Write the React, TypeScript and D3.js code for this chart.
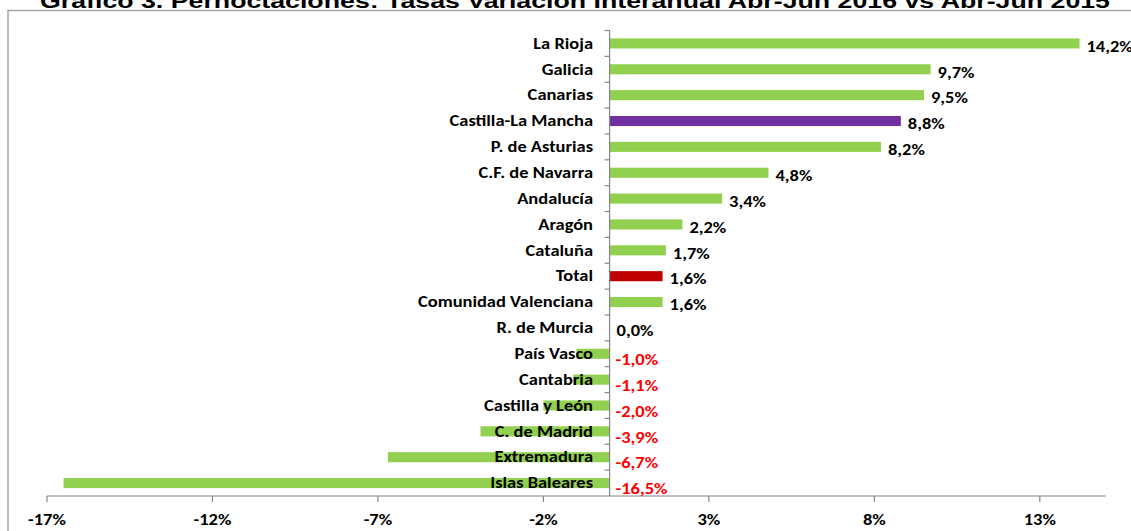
import React from 'react'
import * as d3 from "d3";

const regions = ["La Rioja", "Galicia", "Canarias", "Castilla-La Mancha", "P. de Asturias", "C.F. de Navarra", "Andalucía", "Aragón", "Cataluña", "Total", "Comunidad Valenciana", "R. de Murcia", "País Vasco", "Cantabria", "Castilla y León", "C. de Madrid", "Extremadura", "Islas Baleares"]
const variation = [14.2, 9.7, 9.5, 8.8, 8.2, 4.8, 3.4, 2.2, 1.7, 1.6, 1.6, 0.0, -1.0, -1.1, -2.0, -3.9, -6.7, -16.5]
const tickValues = [-17, -12, -7, -2, 3, 8, 13]
const highlight: Record<string, string> = { "Castilla-La Mancha": "#7030a0", "Total": "#c00000" }
const title = "Gráfico 3. Pernoctaciones: Tasas Variación Interanual Abr-Jun 2016 vs Abr-Jun 2015"

function drawChart(svgRef: React.RefObject<SVGSVGElement>) {
  const width = 1131
  const height = 531
  const font = "Carlito, Calibri, Lato, sans-serif"
  const stretch = 1.23
  const fmt = (v: number) => d3.format(".1f")(v).replace(".", ",").replace("−", "-") + "%"

  const svg = d3.select(svgRef.current)
    .attr("width", width)
    .attr("height", height)
  svg.selectAll("*").remove()

  const x = d3.scaleLinear().domain([-17, 15]).range([47, 1106])
  const y = d3.scaleBand().domain(regions).range([30.5, 496]).paddingInner(0.61).paddingOuter(0.305)
  const band = d3.scaleBand().domain(regions).range([30.5, 496])

  // frame round the chart area
  svg.append("rect")
    .attr("x", 8).attr("y", 10.5)
    .attr("width", width + 20).attr("height", height)
    .attr("fill", "none").attr("stroke", "#a6a6a6").attr("stroke-width", 1.5)

  // title, its top runs off the page as in the original
  svg.append("text")
    .attr("x", 40).attr("y", 7.5)
    .attr("textLength", 1070).attr("lengthAdjust", "spacingAndGlyphs")
    .attr("font-family", "'Liberation Sans', Arial, sans-serif")
    .attr("font-weight", "bold").attr("font-size", 20)
    .text(title)

  // bars
  svg.append("g")
    .selectAll("rect")
    .data(regions)
    .join("rect")
      .attr("x", (d, i) => x(Math.min(0, variation[i])))
      .attr("y", d => y(d)!)
      .attr("width", (d, i) => Math.abs(x(variation[i]) - x(0)))
      .attr("height", y.bandwidth())
      .attr("fill", d => highlight[d] ?? "#92d050")

  // x axis
  const xAxis = svg.append("g").attr("stroke", "#868686").attr("stroke-width", 1.2)
  xAxis.append("line").attr("x1", x(-17)).attr("x2", x(15)).attr("y1", 496).attr("y2", 496)
  xAxis.selectAll("line.tick").data(tickValues).join("line")
    .attr("class", "tick")
    .attr("x1", d => x(d)).attr("x2", d => x(d)).attr("y1", 496).attr("y2", 502)

  svg.append("g")
    .selectAll("text")
    .data(tickValues)
    .join("text")
      .attr("transform", d => `translate(${x(d)},525) scale(${stretch},1)`)
      .attr("text-anchor", "middle")
      .attr("font-family", font).attr("font-weight", "bold").attr("font-size", 15)
      .text(d => d + "%")

  // category axis
  const yAxis = svg.append("g").attr("stroke", "#868686").attr("stroke-width", 1.2)
  yAxis.append("line").attr("x1", x(0)).attr("x2", x(0)).attr("y1", 30.5).attr("y2", 496)
  yAxis.selectAll("line.tick").data(regions).join("line")
    .attr("class", "tick")
    .attr("x1", x(0) - 5).attr("x2", x(0))
    .attr("y1", d => band(d)!).attr("y2", d => band(d)!)

  // category labels
  svg.append("g")
    .selectAll("text")
    .data(regions)
    .join("text")
      .attr("transform", d => `translate(593,${band(d)! + band.bandwidth() / 2}) scale(${stretch},1)`)
      .attr("dy", "0.35em")
      .attr("text-anchor", "end")
      .attr("font-family", font).attr("font-weight", "bold").attr("font-size", 15)
      .text(d => d)

  // value labels
  svg.append("g")
    .selectAll("text")
    .data(regions)
    .join("text")
      .attr("transform", (d, i) => {
        const v = variation[i]
        const cx = v < 0 ? x(0) + 6 : x(v) + 7
        const cy = band(d)! + band.bandwidth() / 2 + (v < 0 ? 6 : 3)
        return `translate(${cx},${cy}) scale(${stretch},1)`
      })
      .attr("dy", "0.35em")
      .attr("font-family", font).attr("font-weight", "bold").attr("font-size", 15)
      .attr("fill", (d, i) => variation[i] < 0 ? "#ff0000" : "#000")
      .text((d, i) => fmt(variation[i]))

  return svg.node()
}

const App: React.FunctionComponent = () => {
  const svg = React.useRef<SVGSVGElement>(null)

  React.useEffect(() => {
    drawChart(svg)
  }, [svg])

  return (
    <div id="chart" style={{ position: "absolute", left: 0, top: 0 }}>
      <svg ref={svg} style={{ display: "block" }} />
    </div>
  )
}

export default App
